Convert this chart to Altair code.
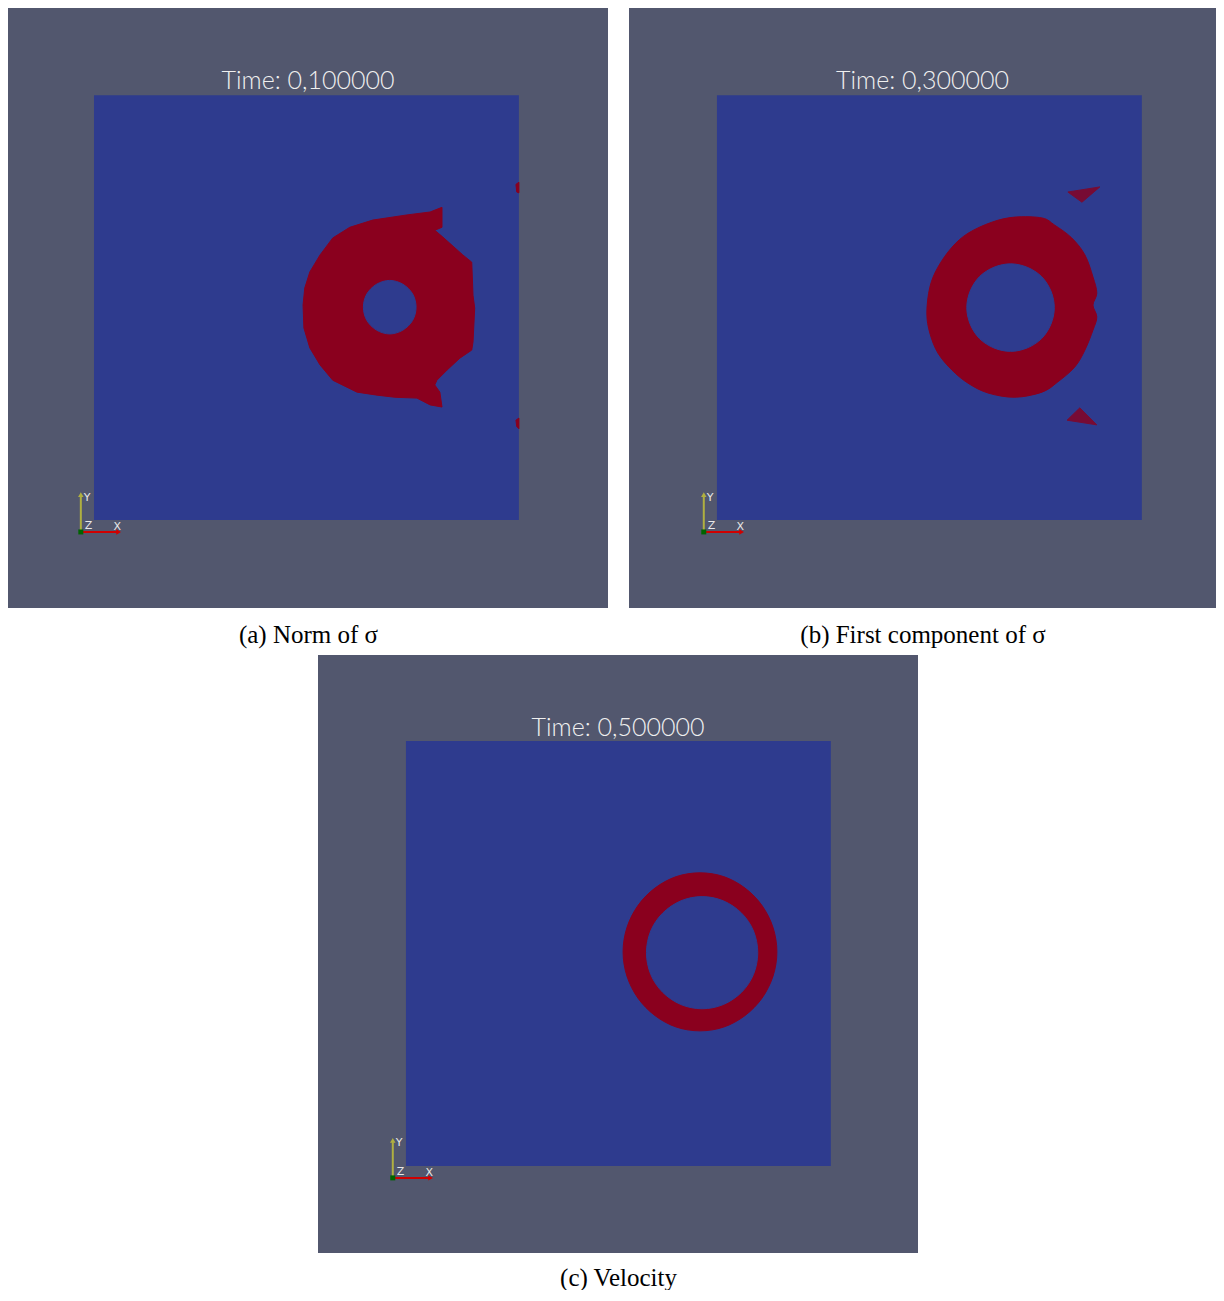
import altair as alt
import pandas as pd

GRAY = "#52576e"
BLUE = "#2e3b8e"
RED = "#8a001e"

times = ["Time: 0,100000", "Time: 0,300000", "Time: 0,500000"]
captions = ["(a) Norm of σ", "(b) First component of σ", "(c) Velocity"]

# simulation domain (unit square)
box_u0, box_u1, box_v0, box_v1 = [0.0], [1.0], [0.0], [1.0]

# ---- panel (a): red region boundary and hole ----
a_outer_u = [0.819, 0.819, 0.802, 0.821, 0.868, 0.889, 0.892, 0.896, 0.892, 0.889, 0.861, 0.831,
             0.807, 0.802, 0.814, 0.819, 0.791, 0.760, 0.708, 0.666, 0.619, 0.562, 0.532, 0.508,
             0.494, 0.492, 0.496, 0.508, 0.532, 0.562, 0.602, 0.656, 0.736, 0.791]
a_outer_v = [0.736, 0.689, 0.682, 0.666, 0.624, 0.607, 0.529, 0.499, 0.419, 0.400, 0.381, 0.353,
             0.329, 0.318, 0.301, 0.266, 0.271, 0.287, 0.289, 0.294, 0.301, 0.329, 0.365, 0.405,
             0.452, 0.506, 0.546, 0.584, 0.624, 0.664, 0.689, 0.706, 0.718, 0.725]
a_hole_u = [0.758, 0.750, 0.727, 0.696, 0.665, 0.642, 0.634, 0.642, 0.665, 0.696, 0.727, 0.750]
a_hole_v = [0.501, 0.532, 0.555, 0.564, 0.555, 0.532, 0.501, 0.470, 0.447, 0.438, 0.447, 0.470]
a_bit1_u = [0.993, 1.000, 1.000, 0.995]
a_bit1_v = [0.790, 0.795, 0.770, 0.772]
a_bit2_u = [0.993, 1.000, 1.000, 0.995]
a_bit2_v = [0.235, 0.240, 0.215, 0.220]

# ---- panel (b) ----
b_outer_u = [0.701, 0.765, 0.795, 0.835, 0.866, 0.885, 0.894, 0.885, 0.894, 0.885, 0.866, 0.842,
             0.802, 0.765, 0.701, 0.638, 0.591, 0.553, 0.520, 0.501, 0.494, 0.501, 0.520, 0.553,
             0.591, 0.647]
b_outer_v = [0.713, 0.711, 0.694, 0.664, 0.624, 0.572, 0.534, 0.506, 0.478, 0.447, 0.400, 0.360,
             0.325, 0.301, 0.289, 0.299, 0.322, 0.353, 0.393, 0.440, 0.487, 0.548, 0.595, 0.642,
             0.675, 0.701]
b_hole_u = [0.794, 0.786, 0.764, 0.730, 0.691, 0.652, 0.618, 0.596, 0.588, 0.596, 0.618, 0.652,
            0.691, 0.730, 0.764, 0.786]
b_hole_v = [0.500, 0.539, 0.573, 0.595, 0.603, 0.595, 0.573, 0.539, 0.500, 0.461, 0.427, 0.405,
            0.397, 0.405, 0.427, 0.461]
b_tri1_u = [0.826, 0.901, 0.859]
b_tri1_v = [0.772, 0.784, 0.748]
b_tri2_u = [0.824, 0.854, 0.894]
b_tri2_v = [0.235, 0.264, 0.224]

# ---- panel (c) ----
c_outer_u = [0.873, 0.864, 0.838, 0.798, 0.748, 0.692, 0.636, 0.586, 0.546, 0.520, 0.511, 0.520,
             0.546, 0.586, 0.636, 0.692, 0.748, 0.798, 0.838, 0.864]
c_outer_v = [0.504, 0.561, 0.613, 0.654, 0.681, 0.690, 0.681, 0.654, 0.613, 0.561, 0.504, 0.447,
             0.395, 0.354, 0.327, 0.318, 0.327, 0.354, 0.395, 0.447]
c_hole_u = [0.828, 0.818, 0.790, 0.747, 0.697, 0.647, 0.604, 0.576, 0.566, 0.576, 0.604, 0.647,
            0.697, 0.747, 0.790, 0.818]
c_hole_v = [0.502, 0.553, 0.595, 0.624, 0.634, 0.624, 0.595, 0.553, 0.502, 0.451, 0.409, 0.380,
            0.370, 0.380, 0.409, 0.451]

# ---- orientation triad (same in every panel) ----
triad_axis = ["Y", "X"]
triad_u0 = [-0.031, -0.031]
triad_v0 = [-0.028, -0.028]
triad_u1 = [-0.031, 0.054]
triad_v1 = [0.056, -0.028]
head_u = [-0.031, 0.058]
head_v = [0.060, -0.028]
head_shape = ["triangle-up", "triangle-right"]
origin_u = [-0.031]
origin_v = [-0.028]
label_text = ["Y", "X", "Z"]
label_u = [-0.016, 0.055, -0.013]
label_v = [0.053, -0.016, -0.015]

PX_PER_UNIT = 424.9


def poly_frame(shapes):
    rows = []
    for name, us, vs in shapes:
        for i, (u, v) in enumerate(zip(us, vs)):
            rows.append({"shape": name, "i": i, "u": u, "v": v})
    return pd.DataFrame(rows)


def panel(title, caption, sharp_red, smooth_red, holes, faint_shapes,
          width, height, x0, y0, cap_pad):
    xs = alt.Scale(domain=[x0, x0 + width / PX_PER_UNIT], nice=False, zero=False)
    ys = alt.Scale(domain=[y0, y0 + height / PX_PER_UNIT], nice=False, zero=False)
    ax = alt.Axis(title=caption, labels=False, ticks=False, domain=False, grid=False,
                  titleFont="Liberation Serif", titleFontSize=25, titleFontWeight="normal",
                  titleColor="#000000", titlePadding=cap_pad)

    box = alt.Chart(pd.DataFrame({"u": box_u0, "u1": box_u1, "v": box_v0, "v1": box_v1})).mark_rect(
        color=BLUE).encode(
        x=alt.X("u:Q", scale=xs, axis=ax), x2="u1:Q",
        y=alt.Y("v:Q", scale=ys, axis=None), y2="v1:Q")

    layers = [box]

    def poly_layer(shapes, colour, interp, opacity=1.0):
        return alt.Chart(poly_frame(shapes)).mark_line(
            filled=True, fill=colour, stroke=colour, strokeWidth=1, opacity=opacity,
            interpolate=interp).encode(
            x=alt.X("u:Q", scale=xs, axis=ax),
            y=alt.Y("v:Q", scale=ys, axis=None),
            detail="shape:N", order="i:Q")

    if sharp_red:
        layers.append(poly_layer(sharp_red, RED, "linear-closed"))
    if smooth_red:
        layers.append(poly_layer(smooth_red, RED, "cardinal-closed"))
    if holes:
        layers.append(poly_layer(holes, BLUE, "cardinal-closed"))
    if faint_shapes:
        layers.append(poly_layer(faint_shapes, RED, "linear-closed", 0.8))

    tri = alt.Chart(pd.DataFrame({"axis": triad_axis, "u": triad_u0, "v": triad_v0,
                                  "u1": triad_u1, "v1": triad_v1})).mark_rule(strokeWidth=2).encode(
        x=alt.X("u:Q", scale=xs, axis=ax), x2="u1:Q",
        y=alt.Y("v:Q", scale=ys, axis=None), y2="v1:Q",
        color=alt.Color("axis:N", scale=alt.Scale(domain=["X", "Y"], range=["#d00000", "#b0b040"]),
                        legend=None))
    heads = alt.Chart(pd.DataFrame({"axis": triad_axis, "u": head_u, "v": head_v,
                                    "shape": head_shape})).mark_point(filled=True, size=30, opacity=1).encode(
        x=alt.X("u:Q", scale=xs, axis=ax), y=alt.Y("v:Q", scale=ys, axis=None),
        shape=alt.Shape("shape:N", scale=None),
        color=alt.Color("axis:N", scale=alt.Scale(domain=["X", "Y"], range=["#ff0000", "#e8e800"]),
                        legend=None))
    origin = alt.Chart(pd.DataFrame({"u": origin_u, "v": origin_v})).mark_square(
        size=25, color="#006400", opacity=1).encode(
        x=alt.X("u:Q", scale=xs, axis=ax), y=alt.Y("v:Q", scale=ys, axis=None))
    labels = alt.Chart(pd.DataFrame({"t": label_text, "u": label_u, "v": label_v})).mark_text(
        font="DejaVu Sans", fontSize=11, color="#e8e8e8", align="center", baseline="middle").encode(
        x=alt.X("u:Q", scale=xs, axis=ax), y=alt.Y("v:Q", scale=ys, axis=None), text="t:N")
    layers += [tri, heads, origin, labels]

    return alt.layer(*layers).properties(
        width=width, height=height,
        title=alt.TitleParams(text=title, orient="top", anchor="middle", offset=-106,
                              baseline="alphabetic", font="Lato", fontSize=25,
                              fontWeight=300, color="#f0f0f0"))


pa = panel(times[0], captions[0],
           [("outer", a_outer_u, a_outer_v), ("bit1", a_bit1_u, a_bit1_v), ("bit2", a_bit2_u, a_bit2_v)],
           [], [("hole", a_hole_u, a_hole_v)], [],
           600, 600, -0.2024, -0.207, 14)
pb = panel(times[1], captions[1],
           [], [("outer", b_outer_u, b_outer_v)],
           [("hole", b_hole_u, b_hole_v)],
           [("t1", b_tri1_u, b_tri1_v), ("t2", b_tri2_u, b_tri2_v)],
           587, 600, -0.207, -0.207, 14)
pc = panel(times[2], captions[2],
           [], [("outer", c_outer_u, c_outer_v)],
           [("hole", c_hole_u, c_hole_v)], [],
           600, 598, -0.207, -0.2048, 12)

# invisible, zero-size spacer that pushes panel (c) to the right
spacer = alt.Chart(pd.DataFrame({"u": [0.5], "v": [0.5]})).mark_point(size=0, opacity=0).encode(
    x=alt.X("u:Q", axis=None, scale=alt.Scale(domain=[0, 1])),
    y=alt.Y("v:Q", axis=None, scale=alt.Scale(domain=[0, 1]))).properties(
    width=1, height=1, view=alt.ViewBackground(fill="transparent", stroke="transparent"))

row1 = alt.hconcat(pa, pb, spacing=21)
row2 = alt.hconcat(spacer, pc, spacing=309)
chart = alt.vconcat(row1, row2, spacing=8).properties(padding=0, background="#ffffff").configure_view(
    fill=GRAY, strokeWidth=0)

chart.save("out.html", embed_options={"renderer": "svg", "actions": False})
